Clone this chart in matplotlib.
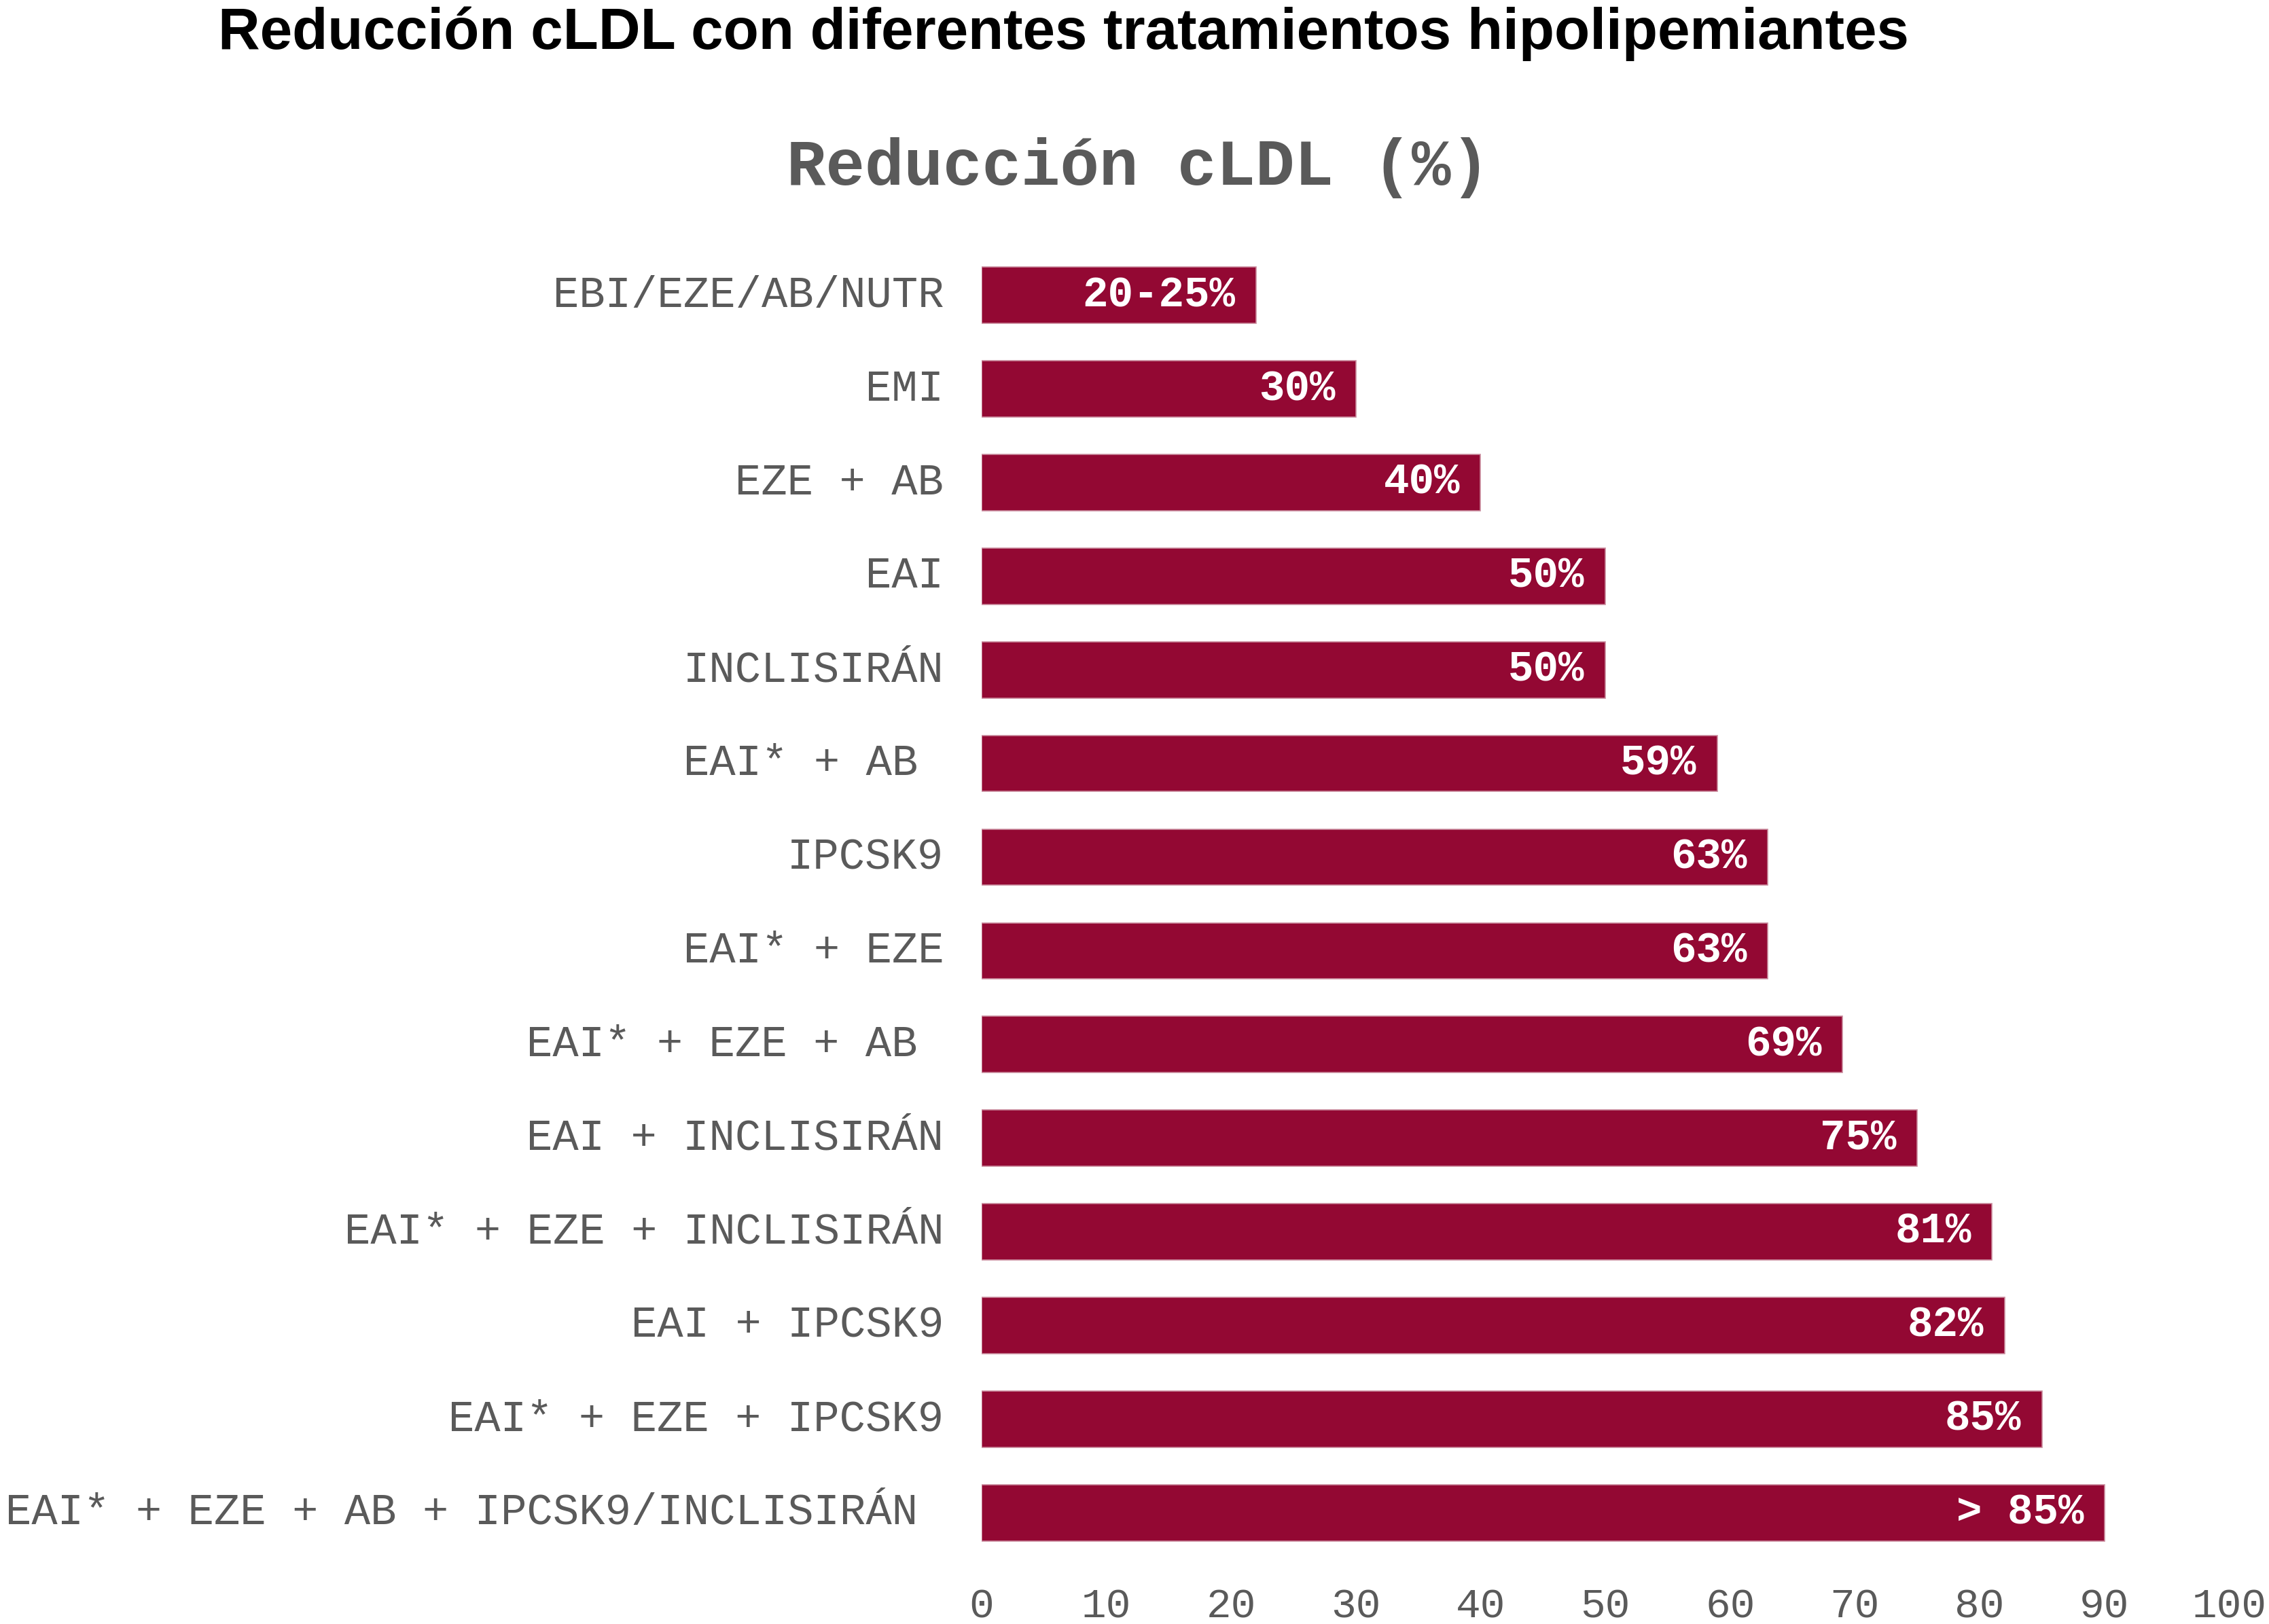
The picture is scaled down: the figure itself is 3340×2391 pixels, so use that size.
import matplotlib
matplotlib.use("Agg")
import matplotlib.pyplot as plt
import numpy as np

# datos
labels = ["EBI/EZE/AB/NUTR", "EMI", "EZE + AB", "EAI", "INCLISIRÁN",
          "EAI* + AB ", "IPCSK9", "EAI* + EZE", "EAI* + EZE + AB ",
          "EAI + INCLISIRÁN", "EAI* + EZE + INCLISIRÁN", "EAI + IPCSK9",
          "EAI* + EZE + IPCSK9", "EAI* + EZE + AB + IPCSK9/INCLISIRÁN "]
values = [22, 30, 40, 50, 50, 59, 63, 63, 69, 75, 81, 82, 85, 90]
bar_text = ["20-25%", "30%", "40%", "50%", "50%", "59%", "63%", "63%",
            "69%", "75%", "81%", "82%", "85%", "> 85%"]
xticks = [0, 10, 20, 30, 40, 50, 60, 70, 80, 90, 100]

color = "#930833"
gris = "#5a5a5a"
mono = "Liberation Mono"
fs = 46

fig = plt.figure(figsize=(33.41, 23.91), dpi=100)
ax = fig.add_axes([0.4325, 0.0397, 0.5496, 0.8073])

y = np.arange(len(labels))
ax.barh(y, values, height=0.6, color=color, edgecolor="#c98a9c", linewidth=1.2)
ax.set_ylim(len(labels) - 0.5, -0.5)
ax.set_xlim(0, 100)

for s in ax.spines.values():
    s.set_visible(False)
ax.set_yticks([])
ax.set_xticks(xticks)
ax.set_xticklabels([str(t) for t in xticks], fontfamily=mono, fontsize=44, color=gris)
ax.tick_params(axis="x", length=0, pad=30)

# etiquetas de categoria (los espacios finales desplazan el texto)
for i, lab in enumerate(labels):
    n = len(lab) - len(lab.rstrip())
    ax.annotate(lab.rstrip(), xy=(0, i), xycoords=("axes fraction", "data"),
                xytext=(-40 - n * 0.6 * fs, 0), textcoords="offset points",
                ha="right", va="center", fontfamily=mono, fontsize=fs, color=gris)

# valores dentro de las barras
for i, (v, t) in enumerate(zip(values, bar_text)):
    ax.annotate(t, xy=(v, i), xytext=(-22, 0), textcoords="offset points",
                ha="right", va="center", fontfamily=mono, fontweight="bold",
                fontsize=45, color="white")

fig.text(0.4687, 0.979, "Reducción cLDL con diferentes tratamientos hipolipemiantes",
         ha="center", va="center", fontfamily="Liberation Sans", fontweight="bold",
         fontsize=61.5, color="black")
fig.text(0.5016, 0.8965, "Reducción cLDL (%)", ha="center", va="center",
         fontfamily=mono, fontweight="bold", fontsize=69, color=gris)

fig.savefig("out.png", dpi=100, facecolor="white")
